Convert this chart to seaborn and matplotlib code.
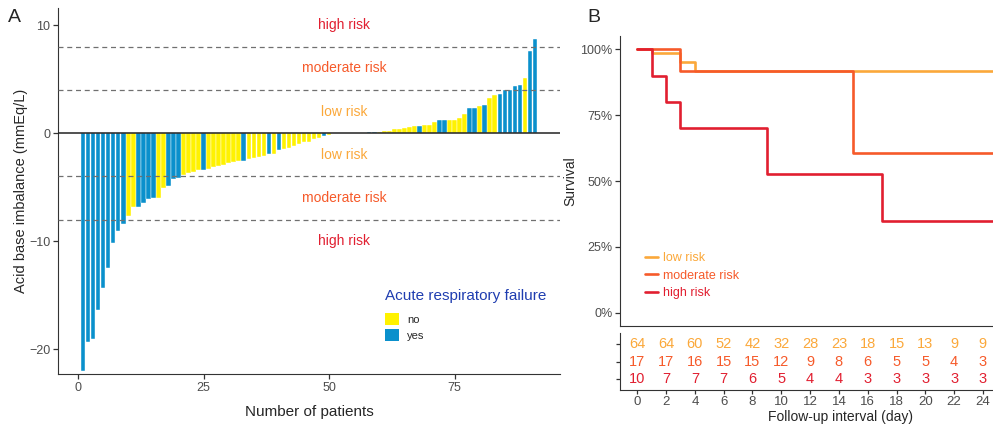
import pandas as pd
import matplotlib
matplotlib.use("Agg")
import matplotlib.pyplot as plt
from matplotlib.patches import Patch
from matplotlib.ticker import PercentFormatter
import seaborn as sns

# ---- panel A: acid base imbalance per patient (sorted) ----
imbalance = [-22.0, -19.3, -19.1, -16.4, -14.3, -12.5, -10.2, -9.1, -8.4, -7.7,
             -6.8, -6.8, -6.5, -6.1, -6.0, -6.0, -5.1, -4.9, -4.2, -4.1,
             -3.9, -3.7, -3.6, -3.4, -3.4, -3.3, -3.1, -3.0, -2.9, -2.8,
             -2.65, -2.6, -2.55, -2.4, -2.3, -2.2, -2.1, -1.95, -1.9, -1.55,
             -1.5, -1.35, -1.2, -1.0, -0.85, -0.8, -0.55, -0.4, -0.25, -0.15,
             0, 0, 0, 0, 0, 0, 0.06, 0.1, 0.1, 0.12,
             0.2, 0.2, 0.35, 0.35, 0.45, 0.55, 0.7, 0.7, 0.8, 0.8,
             1.0, 1.2, 1.2, 1.22, 1.23, 1.4, 1.8, 2.3, 2.3, 2.5,
             2.65, 3.25, 3.5, 3.65, 4.0, 4.0, 4.4, 4.5, 5.1, 7.6, 8.7]
# acute respiratory failure: Y = yes, N = no
arf_code = ("YYYYYYYYYN" "NYYYYNNYYY" "NNNNYNNNNN" "NNYNNNNYNY" "NNNNNNNNYN"
            "NNNNNNNYYN" "NNNNNNNYNN" "NYYNNNNYYN" "YNNYYYYYNY" "Y")
cutoffs = [-8, -4, 4, 8]
risk_text_y = [10, 6, 2, -2, -6, -10]
risk_text = ["high risk", "moderate risk", "low risk", "low risk", "moderate risk", "high risk"]

# ---- panel B: Kaplan-Meier estimates ----
groups = ["low risk", "moderate risk", "high risk"]
low_t = [0, 1, 3, 4, 25]
low_s = [1.0, 0.984, 0.953, 0.916, 0.916]
mod_t = [0, 3, 15, 25]
mod_s = [1.0, 0.916, 0.607, 0.607]
high_t = [0, 1, 2, 3, 9, 17, 25]
high_s = [1.0, 0.90, 0.80, 0.70, 0.525, 0.35, 0.35]

# number at risk table
days = [0, 2, 4, 6, 8, 10, 12, 14, 16, 18, 20, 22, 24]
n_low = [64, 64, 60, 52, 42, 32, 28, 23, 18, 15, 13, 9, 9]
n_mod = [17, 17, 16, 15, 15, 12, 9, 8, 6, 5, 5, 4, 3]
n_high = [10, 7, 7, 7, 6, 5, 4, 4, 3, 3, 3, 3, 3]

risk_colors = {"low risk": "#FBA83A", "moderate risk": "#F65A2A", "high risk": "#E11F30"}
arf_colors = {"no": "#FFF200", "yes": "#0A90CC"}

sns.set_style("ticks")
plt.rcParams["font.family"] = ["Liberation Sans", "DejaVu Sans"]
plt.rcParams["axes.edgecolor"] = "#333333"
plt.rcParams["xtick.color"] = "#333333"
plt.rcParams["ytick.color"] = "#333333"
plt.rcParams["xtick.labelcolor"] = "#4D4D4D"
plt.rcParams["ytick.labelcolor"] = "#4D4D4D"

dfA = pd.DataFrame({"patient": range(1, len(imbalance) + 1),
                    "imbalance": imbalance,
                    "arf": ["yes" if c == "Y" else "no" for c in arf_code]})

fig = plt.figure(figsize=(9.93, 4.26), dpi=100)

# ---------- A ----------
axA = fig.add_axes([58 / 993, 1 - 374 / 426, 502 / 993, 366 / 426])
sns.barplot(data=dfA, x="patient", y="imbalance", hue="arf", hue_order=["no", "yes"],
            palette=arf_colors, saturation=1, native_scale=True, dodge=False, width=0.9,
            errorbar=None, edgecolor="white", linewidth=0.3, legend=False, ax=axA)
axA.axhline(0, color="#222222", lw=1.1, zorder=3)
for c in cutoffs:
    axA.axhline(c, color="#707070", ls=(0, (4, 3)), lw=0.9, zorder=3)
for y, t in zip(risk_text_y, risk_text):
    axA.text(53, y, t, ha="center", va="center", fontsize=10, color=risk_colors[t])
axA.set_xlim(-4, 96)
axA.set_ylim(-22.3, 11.6)
axA.set_xticks([0, 25, 50, 75])
axA.set_yticks([-20, -10, 0, 10])
axA.tick_params(labelsize=9, length=3.5, width=0.9, pad=2)
axA.set_xlabel("Number of patients", fontsize=11, labelpad=8)
axA.set_ylabel("Acid base imbalance (mmEq/L)", fontsize=10.5, labelpad=1)
sns.despine(ax=axA)

handles = [Patch(facecolor=arf_colors[k], edgecolor="none", label=k) for k in ["no", "yes"]]
legA = axA.legend(handles=handles, title="Acute respiratory failure", loc="upper left",
                  bbox_to_anchor=(0.652, 0.232), frameon=False, fontsize=8,
                  title_fontsize=11, alignment="left", handlelength=1.25, handleheight=1.3,
                  labelspacing=0.4, handletextpad=0.7, borderaxespad=0, borderpad=0)
legA.get_title().set_color("#1F3DB0")
legA._legend_box.sep = 7

# ---------- B: survival curves ----------
axB = fig.add_axes([620 / 993, 1 - 326 / 426, 373 / 993, 290 / 426])
for g, t, s in zip(groups, [low_t, mod_t, high_t], [low_s, mod_s, high_s]):
    sns.lineplot(x=t, y=s, drawstyle="steps-post", color=risk_colors[g], lw=1.9,
                 estimator=None, label=g, ax=axB)
axB.set_xlim(-1.2, 24.7)
axB.set_ylim(-0.05, 1.05)
axB.set_yticks([0, 0.25, 0.5, 0.75, 1.0])
axB.yaxis.set_major_formatter(PercentFormatter(1.0, decimals=0))
axB.set_xticks([])
axB.tick_params(labelsize=9, length=3.5, width=0.9, pad=2)
axB.set_ylabel("Survival", fontsize=10, labelpad=2)
axB.set_xlabel("")
sns.despine(ax=axB)
axB.legend(loc="upper left", bbox_to_anchor=(0.068, 0.255), frameon=False, fontsize=9,
           handlelength=1.0, handletextpad=0.4, labelspacing=0.45, labelcolor="linecolor",
           borderaxespad=0, borderpad=0)

# ---------- B: number at risk ----------
axT = fig.add_axes([620 / 993, 1 - 390 / 426, 373 / 993, 57 / 426])
for row, counts, g in zip([3, 2, 1], [n_low, n_mod, n_high], groups):
    for d, n in zip(days, counts):
        axT.text(d, row, str(n), ha="center", va="center", fontsize=10.5, color=risk_colors[g])
axT.set_xlim(-1.2, 24.7)
axT.set_ylim(0.4, 3.6)
axT.set_xticks(days)
axT.set_yticks([1, 2, 3])
axT.set_yticklabels([])
axT.tick_params(labelsize=9.5, length=3, width=0.9, pad=1.5)
axT.set_xlabel("Follow-up interval (day)", fontsize=10)
axT.xaxis.set_label_coords((840 - 620) / 373, (390 - 410) / 57)
sns.despine(ax=axT)

fig.text(14 / 993, 1 - 18 / 426, "A", fontsize=14, ha="center", va="center")
fig.text(594 / 993, 1 - 18 / 426, "B", fontsize=14, ha="center", va="center")

fig.savefig("out.png", dpi=100)
